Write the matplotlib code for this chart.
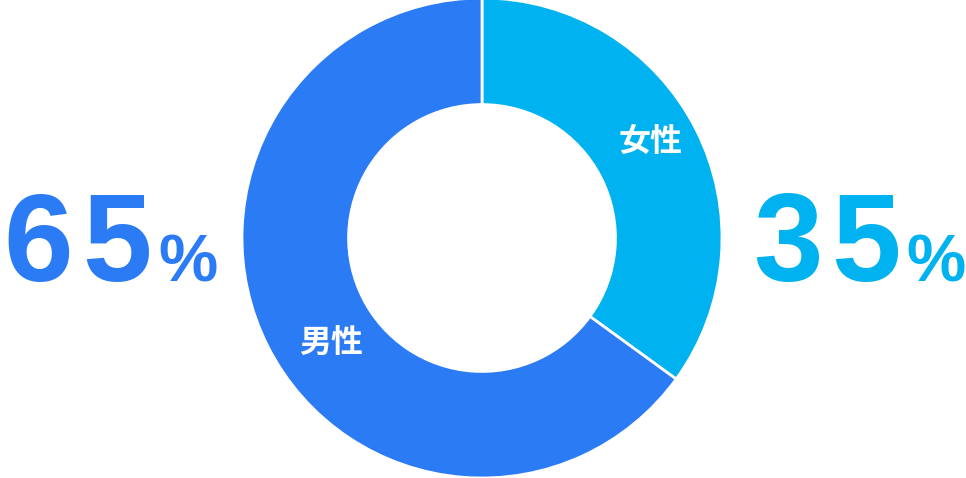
import matplotlib.pyplot as plt

plt.rcParams['font.family'] = ['Noto Sans CJK JP', 'DejaVu Sans']

# Data
labels = ["女性", "男性"]
values = [35, 65]
colors = ["#00B2F0", "#2B7BF5"]

W, H = 966, 478
fig = plt.figure(figsize=(W / 100, H / 100), dpi=100)

# donut axes, square box around the circle
ax = fig.add_axes([(482 - 240) / W, (239 - 240 + 1) / H, 480 / W, 480 / H])
wedges, _ = ax.pie(values, colors=colors, startangle=90, counterclock=False,
                   radius=1.0,
                   wedgeprops={'width': 0.444, 'linewidth': 2, 'edgecolor': 'white'})
ax.set_xlim(-1, 1)
ax.set_ylim(-1, 1)
ax.set_aspect('equal')
ax.axis('off')

# slice labels
ax.text(169 / 240, 96 / 240, labels[0], color='white', fontsize=23,
        fontweight='bold', ha='center', va='center')
ax.text(-151 / 240, -106 / 240, labels[1], color='white', fontsize=23,
        fontweight='bold', ha='center', va='center')

# big percentages, digits spaced a bit apart
base = 1 - 281 / H
big = dict(fontsize=90, fontweight='bold', family='Liberation Sans',
           va='baseline', ha='left')
pct = dict(fontsize=48, fontweight='bold', family='Liberation Sans',
           va='baseline', ha='left')

s = str(values[1])
fig.text(3 / W, base, s[0], color=colors[1], **big)
fig.text(82 / W, base, s[1], color=colors[1], **big)
fig.text(158 / W, base, "%", color=colors[1], **pct)

s = str(values[0])
fig.text(753 / W, base, s[0], color=colors[0], **big)
fig.text(831 / W, base, s[1], color=colors[0], **big)
fig.text(906 / W, base, "%", color=colors[0], **pct)

fig.savefig("out.png", dpi=100)
